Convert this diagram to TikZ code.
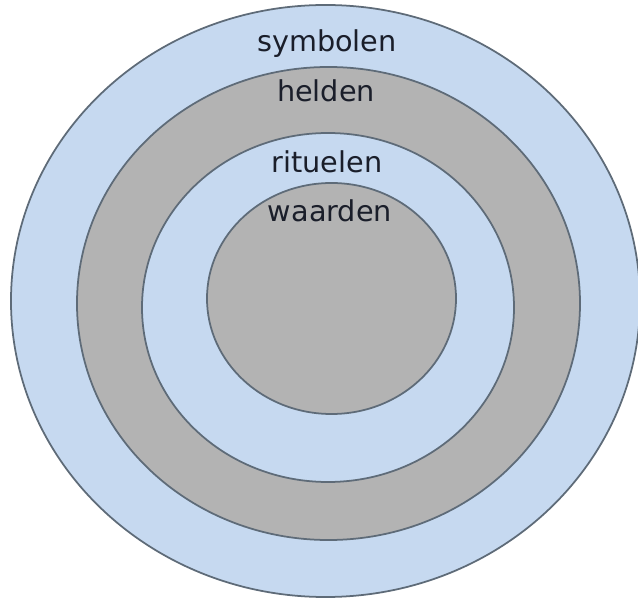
\documentclass[tikz,border=0pt]{standalone}
\usepackage{fontspec}
\setmainfont{DejaVu Sans}
\usetikzlibrary{shapes.geometric}
\definecolor{ringblue}{HTML}{C6D9F0}
\definecolor{ringgray}{HTML}{B3B3B3}
\definecolor{ringline}{HTML}{5E6B78}
\definecolor{labeltext}{HTML}{1A1E2A}
\begin{document}
\begin{tikzpicture}[x=0.03cm, y=-0.03cm,
    layer/.style={ellipse, draw=ringline, line width=1.5pt, inner sep=0pt},
    layertext/.style={anchor=base, text=labeltext, font=\fontsize{24.5}{29}\selectfont}]

                  \clip (0,0) rectangle (638,598);
                  \fill[white] (0,0) rectangle (638,598);

                  \node[layer, fill=ringblue, minimum width=18.87cm, minimum height=17.76cm] (symbolen) at (325.5,301) {};
                  \node[layer, fill=ringgray, minimum width=15.09cm, minimum height=14.19cm] (helden) at (328.5,303.5) {};
                  \node[layer, fill=ringblue, minimum width=11.16cm, minimum height=10.47cm] (rituelen) at (328,307.5) {};
                  \node[layer, fill=ringgray, minimum width=7.47cm, minimum height=6.93cm] (waarden) at (331.5,298.5) {};

                  \node[layertext] (tsymbolen) at (327,52) {symbolen};
                  \node[layertext] (thelden) at (326,102) {helden};
                  \node[layertext] (trituelen) at (327,173) {rituelen};
                  \node[layertext] (twaarden) at (330,222) {waarden};

            \end{tikzpicture}
\end{document}
